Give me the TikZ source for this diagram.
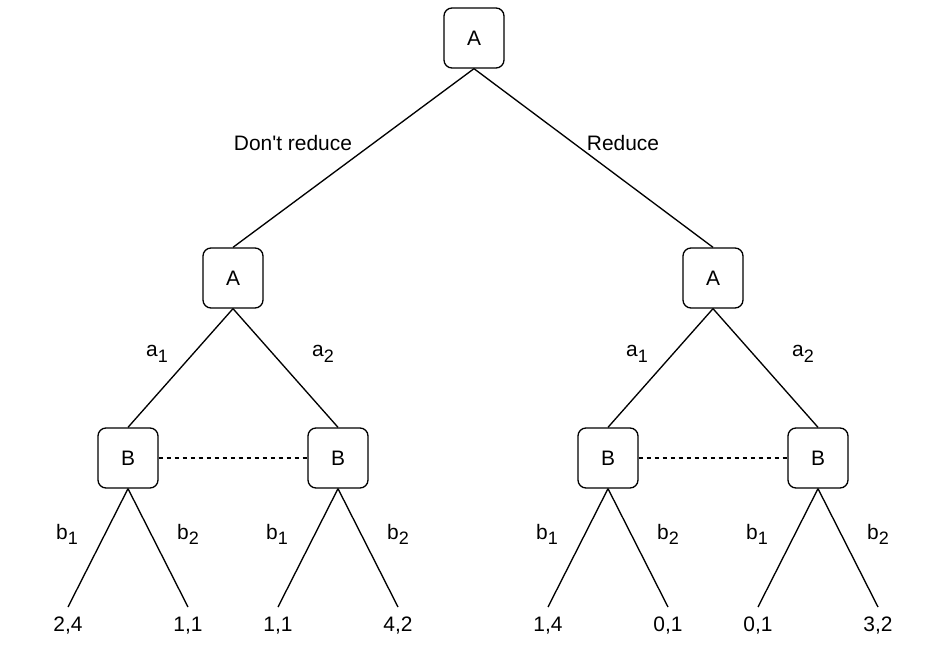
\documentclass[tikz,border=0pt]{standalone}
\usepackage{fontspec}
\setmainfont{Liberation Sans}
\usetikzlibrary{positioning}
\newcommand{\lowidx}[1]{\raisebox{-3.8pt}{\fontsize{13.5}{15}\selectfont #1}}

\begin{document}
\begin{tikzpicture}[x=0.75pt, y=-0.75pt,
      every node/.style={font=\fontsize{15.7}{18}\selectfont},
      player/.style={rectangle, draw=black, line width=1pt, rounded corners=6pt, minimum width=45pt, minimum height=45pt, inner sep=0pt},
      choice/.style={anchor=base, inner sep=0pt},
      payoff/.style={anchor=north, inner sep=0pt, text height=18pt},
      edge/.style={line width=1pt},
      info/.style={line width=1pt, dash pattern=on 3pt off 3pt},
    ]
    \useasboundingbox (0,0) rectangle (943,652);

    % Decision nodes
    \node[player] (root) at (474,38) {A};
    \node[player] (dA) at (233,278) {A};
    \node[player] (rA) at (713,278) {A};
    \node[player] (dB1) at (128,458) {B};
    \node[player] (dB2) at (338,458) {B};
    \node[player] (rB1) at (608,458) {B};
    \node[player] (rB2) at (818,458) {B};

    % Payoffs
    \node[payoff] (p1) at (68,607) {2,4};
    \node[payoff] (p2) at (188,607) {1,1};
    \node[payoff] (p3) at (278,607) {1,1};
    \node[payoff] (p4) at (398,607) {4,2};
    \node[payoff] (p5) at (548,607) {1,4};
    \node[payoff] (p6) at (668,607) {0,1};
    \node[payoff] (p7) at (758,607) {0,1};
    \node[payoff] (p8) at (878,607) {3,2};

    % Choice labels
    \node[choice] (lDont) at (293,151) {Don\textquotesingle t reduce};
    \node[choice] (lRed) at (623,151) {Reduce};
    \node[choice] (la1) at (157,357) {a\lowidx{1}};
    \node[choice] (la2) at (323,357) {a\lowidx{2}};
    \node[choice] (ra1) at (637,357) {a\lowidx{1}};
    \node[choice] (ra2) at (803,357) {a\lowidx{2}};
    \node[choice] (lb1) at (67,539) {b\lowidx{1}};
    \node[choice] (lb2) at (188,539) {b\lowidx{2}};
    \node[choice] (lb3) at (277,539) {b\lowidx{1}};
    \node[choice] (lb4) at (398,539) {b\lowidx{2}};
    \node[choice] (rb1) at (547,539) {b\lowidx{1}};
    \node[choice] (rb2) at (668,539) {b\lowidx{2}};
    \node[choice] (rb3) at (757,539) {b\lowidx{1}};
    \node[choice] (rb4) at (878,539) {b\lowidx{2}};

    % Edges
    \draw[edge] (root.south) -- (dA.north);
    \draw[edge] (root.south) -- (rA.north);
    \draw[edge] (dA.south) -- (dB1.north);
    \draw[edge] (dA.south) -- (dB2.north);
    \draw[edge] (rA.south) -- (rB1.north);
    \draw[edge] (rA.south) -- (rB2.north);
    \draw[edge] (dB1.south) -- (p1.north);
    \draw[edge] (dB1.south) -- (p2.north);
    \draw[edge] (dB2.south) -- (p3.north);
    \draw[edge] (dB2.south) -- (p4.north);
    \draw[edge] (rB1.south) -- (p5.north);
    \draw[edge] (rB1.south) -- (p6.north);
    \draw[edge] (rB2.south) -- (p7.north);
    \draw[edge] (rB2.south) -- (p8.north);

    % Information sets
    \draw[info] (dB1) -- (dB2);
    \draw[info] (rB1) -- (rB2);

  \end{tikzpicture}
\end{document}
